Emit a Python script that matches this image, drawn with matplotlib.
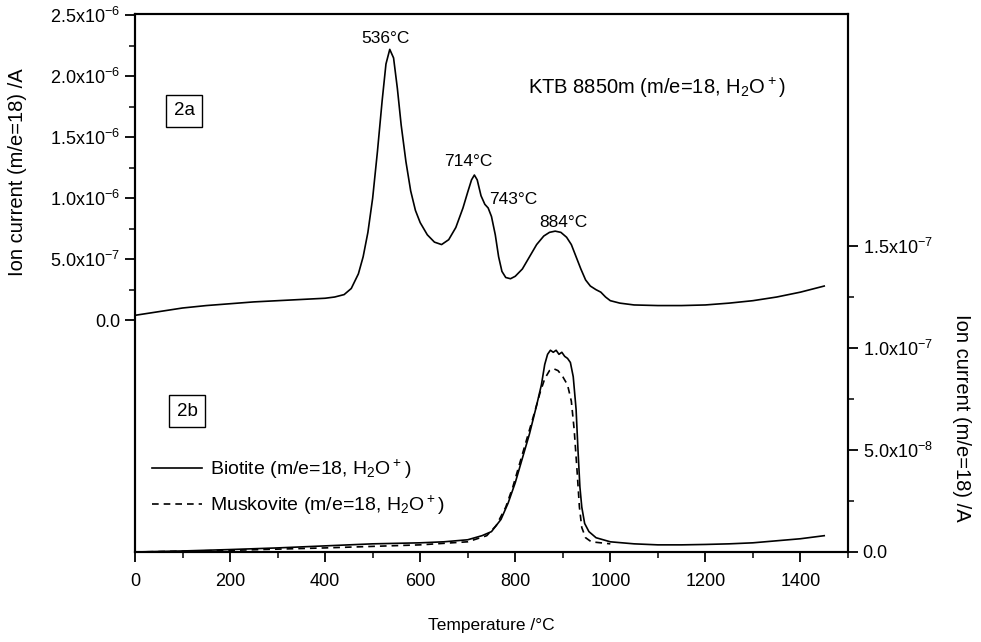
import matplotlib
matplotlib.use("Agg")
import matplotlib.pyplot as plt
from matplotlib.ticker import FixedLocator, MultipleLocator

plt.rcParams["font.family"] = ["Liberation Sans", "DejaVu Sans"]
plt.rcParams["mathtext.fontset"] = "custom"
plt.rcParams["mathtext.rm"] = "Liberation Sans"
plt.rcParams["mathtext.default"] = "regular"
plt.rcParams["font.size"] = 12

# ---- 2a: KTB 8850m whole rock, m/e=18 (left axis, A) ----
temp_a = [0, 50, 100, 150, 200, 250, 300, 350, 400, 420, 440, 455, 470, 480,
          490, 500, 510, 520, 528, 536, 544, 552, 560, 570, 580, 590, 600,
          615, 630, 645, 660, 675, 690, 700, 708, 714, 720, 728, 736, 743,
          750, 758, 765, 772, 780, 790, 800, 815, 830, 845, 860, 872, 884,
          896, 908, 918, 928, 938, 948, 958, 970, 980, 990, 1000, 1020, 1050,
          1100, 1150, 1200, 1250, 1300, 1350, 1400, 1450]
ion_a = [0.04, 0.07, 0.10, 0.12, 0.135, 0.15, 0.16, 0.17, 0.18, 0.19, 0.21,
         0.26, 0.38, 0.52, 0.72, 1.00, 1.38, 1.80, 2.10, 2.22, 2.15, 1.90,
         1.60, 1.30, 1.06, 0.90, 0.80, 0.70, 0.64, 0.62, 0.66, 0.76, 0.92,
         1.05, 1.15, 1.19, 1.15, 1.02, 0.95, 0.92, 0.85, 0.70, 0.52, 0.40,
         0.35, 0.34, 0.36, 0.42, 0.52, 0.62, 0.69, 0.72, 0.73, 0.72, 0.68,
         0.62, 0.52, 0.42, 0.33, 0.28, 0.25, 0.23, 0.19, 0.16, 0.14, 0.125,
         0.12, 0.12, 0.125, 0.14, 0.16, 0.19, 0.23, 0.28]  # x1e-6

# ---- 2b: separated minerals (right axis, A) ----
temp_bio = [0, 100, 200, 300, 400, 500, 600, 650, 700, 730, 750, 770, 785,
            800, 815, 830, 845, 855, 862, 868, 874, 880, 886, 892, 898, 904,
            910, 916, 922, 928, 932, 936, 940, 946, 955, 970, 1000, 1050,
            1100, 1150, 1200, 1250, 1300, 1350, 1400, 1450]
ion_bio = [0.0, 0.005, 0.012, 0.02, 0.03, 0.04, 0.045, 0.05, 0.06, 0.08,
           0.10, 0.16, 0.24, 0.34, 0.46, 0.58, 0.72, 0.82, 0.92, 0.97, 0.99,
           0.98, 0.99, 0.97, 0.98, 0.96, 0.95, 0.93, 0.86, 0.70, 0.50, 0.32,
           0.22, 0.14, 0.10, 0.07, 0.05, 0.04, 0.035, 0.035, 0.037, 0.04,
           0.045, 0.055, 0.065, 0.08]  # x1e-7

temp_mus = [0, 200, 400, 600, 700, 740, 760, 780, 795, 810, 825, 840, 852,
            862, 872, 880, 890, 900, 910, 918, 924, 930, 935, 940, 948, 960,
            1000]
ion_mus = [0.0, 0.008, 0.02, 0.035, 0.05, 0.08, 0.13, 0.22, 0.32, 0.44,
           0.56, 0.68, 0.78, 0.85, 0.89, 0.90, 0.89, 0.86, 0.82, 0.74, 0.60,
           0.40, 0.22, 0.12, 0.07, 0.05, 0.04]  # x1e-7

peak_temps = [536, 714, 743, 884]
peak_label_pos = [(526, 2.31), (701, 1.30), (796, 0.99), (901, 0.80)]  # x1e-6

left_ticks = [0.0, 0.5, 1.0, 1.5, 2.0, 2.5]
left_labels = ["0.0", "5.0x10$^{-7}$", "1.0x10$^{-6}$", "1.5x10$^{-6}$",
               "2.0x10$^{-6}$", "2.5x10$^{-6}$"]
right_ticks = [0.0, 0.5, 1.0, 1.5]
right_labels = ["0.0", "5.0x10$^{-8}$", "1.0x10$^{-7}$", "1.5x10$^{-7}$"]

fig = plt.figure(figsize=(9.81, 6.42), dpi=100)
ax = fig.add_axes([0.1376, 0.1402, 0.7268, 0.838])
ax2 = ax.twinx()

ax.plot(temp_a, [v * 1e-6 for v in ion_a], color="black", lw=1.2)
ax2.plot(temp_bio, [v * 1e-7 for v in ion_bio], color="black", lw=1.2,
         label="Biotite (m/e=18, H$_2$O$^+$)")
ax2.plot(temp_mus, [v * 1e-7 for v in ion_mus], color="black", lw=1.2,
         dashes=(4, 3), label="Muskovite (m/e=18, H$_2$O$^+$)")

ax.set_xlim(0, 1500)
ax.set_ylim(-1.90e-6, 2.51e-6)
ax2.set_ylim(0, 2.64e-7)

# x axis
ax.xaxis.set_major_locator(FixedLocator([0, 200, 400, 600, 800, 1000, 1200, 1400]))
ax.xaxis.set_minor_locator(MultipleLocator(100))
ax.set_xlabel("Temperature /°C", labelpad=20, fontsize=12.5)

# left axis only labelled from 0 upwards
ax.yaxis.set_major_locator(FixedLocator([t * 1e-6 for t in left_ticks]))
ax.yaxis.set_minor_locator(FixedLocator([t * 1e-6 for t in [0.25, 0.75, 1.25, 1.75, 2.25]]))
ax.set_yticklabels(left_labels)

# right axis only labelled up to 1.5e-7
ax2.yaxis.set_major_locator(FixedLocator([t * 1e-7 for t in right_ticks]))
ax2.yaxis.set_minor_locator(FixedLocator([t * 1e-7 for t in [0.25, 0.75, 1.25]]))
ax2.set_yticklabels(right_labels)

for a in (ax, ax2):
    for sp in a.spines.values():
        sp.set_linewidth(1.5)
    a.tick_params(which="major", direction="out", length=7, width=1.3, labelsize=13)
    a.tick_params(which="minor", direction="out", length=4, width=1.1)
ax.tick_params(axis="x", pad=8)

fig.text(18 / 981, 1 - 172 / 642, "Ion current (m/e=18) /A", rotation=90,
         ha="center", va="center", fontsize=14.5)
fig.text(962 / 981, 1 - 418 / 642, "Ion current (m/e=18) /A", rotation=270,
         ha="center", va="center", fontsize=14.5)

# peak temperatures
for t, (x, y) in zip(peak_temps, peak_label_pos):
    ax.text(x, y * 1e-6, f"{t}°C", ha="center", va="center", fontsize=12.5)

ax.text(0.551, 0.862, "KTB 8850m (m/e=18, H$_2$O$^+$)", transform=ax.transAxes,
        ha="left", va="center", fontsize=14.5)

box = dict(boxstyle="square,pad=0.4", fc="white", ec="black", lw=1)
ax.text(0.069, 0.82, "2a", transform=ax.transAxes, ha="center", va="center",
        fontsize=13.5, bbox=box)
ax.text(0.073, 0.262, "2b", transform=ax.transAxes, ha="center", va="center",
        fontsize=13.5, bbox=box)

ax2.legend(loc="upper left", bbox_to_anchor=(0.0, 0.208), frameon=False,
           handlelength=2.55, handletextpad=0.4, labelspacing=0.65, fontsize=14)

fig.savefig("out.png", dpi=100)
